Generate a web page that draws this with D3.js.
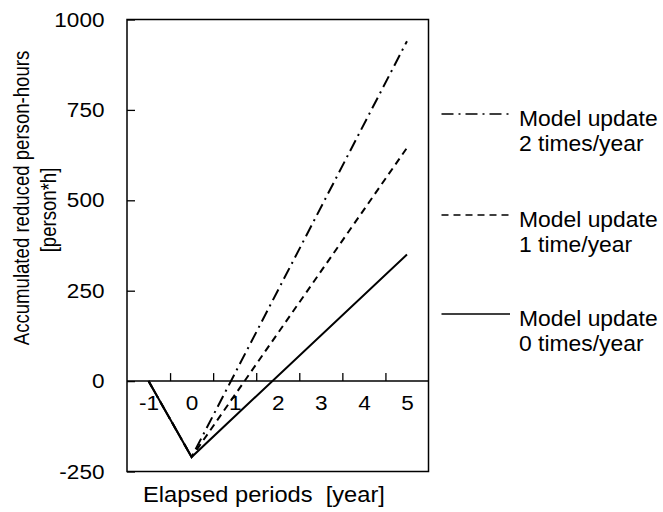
<!DOCTYPE html>
<html>
<head>
<meta charset="utf-8">
<script src="https://cdn.jsdelivr.net/npm/d3@7"></script>
<style>
  html, body { margin: 0; padding: 0; background: #fff; }
  svg { display: block; font-family: "Liberation Sans", Arial, sans-serif; }
</style>
</head>
<body>
<svg id="chart" width="663" height="512"></svg>
<script>
// Elapsed periods (years) at which the accumulated values are known
const years = [-1, 0, 5];
// Category labels along the horizontal axis
const yearLabels = [-1, 0, 1, 2, 3, 4, 5];
// Accumulated reduced person-hours for each model-update frequency
const update2 = [0, -210, 940];
const update1 = [0, -210, 645];
const update0 = [0, -210, 350];
// Vertical tick values
const yTicks = [1000, 750, 500, 250, 0, -250];

const seriesNames = ["Model update|2 times/year", "Model update|1 time/year", "Model update|0 times/year"];
const seriesValues = [update2, update1, update0];
const seriesDash = ["12,5,2,5", "7,5", null];

const svg = d3.select("#chart");
const plot = { left: 127, right: 428.5, top: 19.5, bottom: 471.5 };
const WIDEN = 1.1; // horizontal widening of the lettering

const x = d3.scaleLinear().domain([-1.5, 5.5]).range([plot.left, plot.right]);
const y = d3.scaleLinear().domain([-250, 1000]).range([plot.bottom, plot.top]);
const plain = d => String(d); // hyphen-minus for negatives

// plot frame
svg.append("rect")
  .attr("x", plot.left).attr("y", plot.top)
  .attr("width", plot.right - plot.left).attr("height", plot.bottom - plot.top)
  .attr("fill", "none").attr("stroke", "#000").attr("stroke-width", 1.5);

// vertical axis: inward ticks, labels on the left
const yAxis = svg.append("g")
  .attr("transform", `translate(${plot.left},0)`)
  .call(d3.axisLeft(y).tickValues(yTicks).tickSizeInner(-8).tickSizeOuter(0).tickPadding(20.5).tickFormat(plain));
yAxis.select(".domain").remove();
yAxis.selectAll("line").attr("stroke", "#000").attr("stroke-width", 1.3);
yAxis.selectAll("text")
  .attr("font-size", 20.5).attr("fill", "#000")
  .attr("font-family", "Liberation Sans, Arial, sans-serif")
  .attr("transform", `scale(${WIDEN},1)`);

// horizontal axis along zero: boundary ticks pointing up
const boundaries = d3.range(-0.5, 5, 1);
const xTickAxis = svg.append("g")
  .attr("transform", `translate(0,${y(0)})`)
  .call(d3.axisBottom(x).tickValues(boundaries).tickSizeInner(-8).tickSizeOuter(0).tickFormat(""));
xTickAxis.select(".domain").remove();
xTickAxis.selectAll("line").attr("stroke", "#000").attr("stroke-width", 1.3);

svg.append("line")
  .attr("x1", plot.left).attr("x2", plot.right)
  .attr("y1", y(0)).attr("y2", y(0))
  .attr("stroke", "#000").attr("stroke-width", 1.5);

// year labels centred on each category
const xLabelAxis = svg.append("g")
  .attr("transform", `translate(0,${y(0)})`)
  .call(d3.axisBottom(x).tickValues(yearLabels).tickSize(0).tickPadding(14).tickFormat(plain));
xLabelAxis.select(".domain").remove();
xLabelAxis.selectAll("text")
  .attr("font-size", 20.5).attr("fill", "#000")
  .attr("font-family", "Liberation Sans, Arial, sans-serif")
  .attr("transform", `scale(${WIDEN},1)`);

// series lines
const line = d3.line().x((d, i) => x(years[i])).y(d => y(d));
seriesValues.forEach((vals, i) => {
  svg.append("path")
    .datum(vals)
    .attr("d", line)
    .attr("fill", "none")
    .attr("stroke", "#000")
    .attr("stroke-width", 2)
    .attr("stroke-dasharray", seriesDash[i])
    .attr("stroke-linejoin", "miter");
});

// legend
const legendBase = [126, 227, 326];
seriesNames.forEach((name, i) => {
  const g = svg.append("g");
  g.append("line")
    .attr("x1", 441.5).attr("x2", 510)
    .attr("y1", legendBase[i] - 12).attr("y2", legendBase[i] - 12)
    .attr("stroke", "#000").attr("stroke-width", 1.6)
    .attr("stroke-dasharray", seriesDash[i]);
  const t = g.append("text")
    .attr("transform", `translate(519,${legendBase[i]}) scale(1.04,1)`)
    .attr("font-size", 22).attr("fill", "#000");
  name.split("|").forEach((part, k) => {
    t.append("tspan").attr("x", 0).attr("dy", k === 0 ? 0 : 25).text(part);
  });
});

// axis titles
svg.append("text")
  .attr("transform", `translate(143,502) scale(${WIDEN},1)`)
  .attr("font-size", 21.5).attr("fill", "#000")
  .attr("xml:space", "preserve")
  .text("Elapsed periods  [year]");

svg.append("text")
  .attr("transform", `translate(28.5,198) scale(${WIDEN},0.93) rotate(-90)`)
  .attr("text-anchor", "middle")
  .attr("font-size", 20).attr("fill", "#000")
  .text("Accumulated reduced person-hours");
svg.append("text")
  .attr("transform", `translate(55.5,210) scale(${WIDEN},0.93) rotate(-90)`)
  .attr("text-anchor", "middle")
  .attr("font-size", 20).attr("fill", "#000")
  .text("[person*h]");
</script>
</body>
</html>
